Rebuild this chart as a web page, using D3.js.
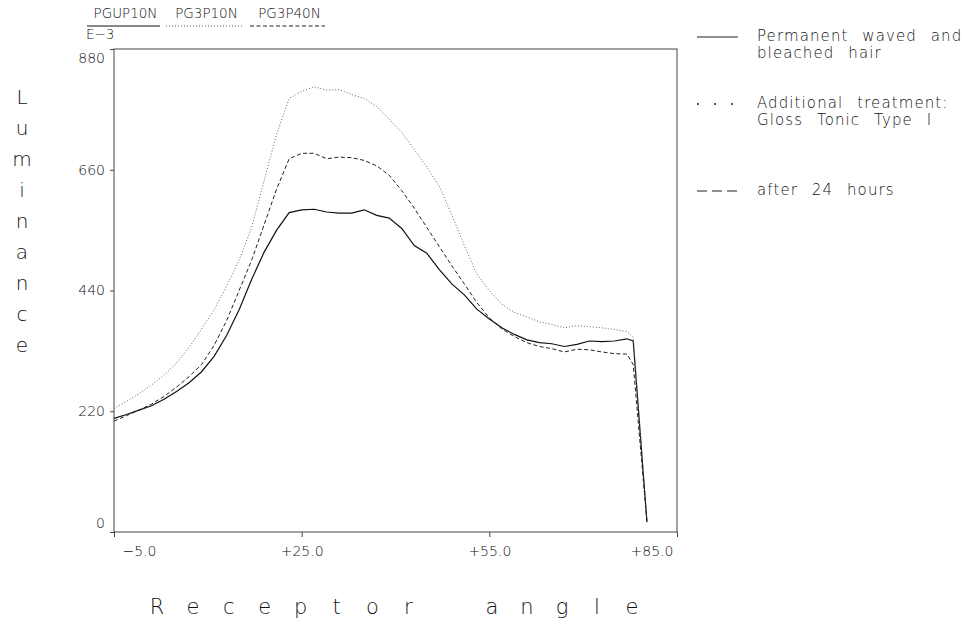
<!DOCTYPE html>
<html>
<head>
<meta charset="utf-8">
<script src="https://cdn.jsdelivr.net/npm/d3@7"></script>
<style>
  body { margin: 0; background: #fff; }
  text { font-family: "DejaVu Sans", sans-serif; font-weight: 200; fill: #111; }
</style>
</head>
<body>
<svg id="chart" width="979" height="633"></svg>
<script>
// Receptor angle (deg) and luminance (E-3)
const angles = [-5, -3, -1, 1, 3, 5, 7, 9, 11, 13, 15, 17, 19, 21, 23, 25, 27, 29, 31, 33, 35, 37, 39,
  41, 43, 45, 47, 49, 51, 53, 55, 57, 59, 61, 63, 65, 67, 69, 71, 73, 75, 77, 78, 80.2];
const permWaved = [207, 214, 222, 230, 242, 256, 272, 292, 320, 358, 405, 460, 510, 550, 582, 587, 588, 583, 581, 581, 587, 577, 572,
  553, 522, 508, 478, 452, 432, 406, 388, 372, 360, 350, 345, 343, 338, 342, 348, 347, 348, 352, 348, 18];
const glossTonic = [225, 238, 252, 268, 286, 308, 336, 370, 405, 448, 495, 555, 640, 725, 790, 803, 811, 805, 806, 797, 790, 775, 752,
  728, 697, 665, 630, 578, 522, 470, 440, 415, 400, 392, 383, 378, 372, 376, 374, 372, 369, 365, 355, 18];
const after24h = [202, 212, 222, 233, 247, 264, 283, 305, 340, 385, 440, 495, 560, 625, 680, 690, 690, 680, 683, 682, 677, 667, 650,
  622, 590, 555, 520, 485, 452, 418, 390, 370, 356, 345, 338, 334, 328, 333, 332, 328, 325, 324, 305, 18];

const seriesNames = ['PGUP10N', 'PG3P10N', 'PG3P40N'];
const legendLabels = [['Permanent waved and', 'bleached hair'], ['Additional treatment:', 'Gloss Tonic Type I'], ['after 24 hours']];
const xTicks = [-5, 25, 55, 85];
const yTicks = [0, 220, 440, 660, 880];

let svg = d3.select('#chart');

let x = d3.scaleLinear().domain([-5, 85]).range([114, 677]);
let y = d3.scaleLinear().domain([0, 880]).range([532, 49]);

// line styles: solid, dotted, dashed
let styles = [
  { stroke: '#111', width: 1.2, dash: null },
  { stroke: '#666', width: 1, dash: '1,2' },
  { stroke: '#222', width: 1, dash: '4,2.5' }
];

//
// Frame and axes
//

svg.append('rect')
  .attr('x', x(-5)).attr('y', y(880))
  .attr('width', x(85) - x(-5)).attr('height', y(0) - y(880))
  .attr('fill', 'none').attr('stroke', '#444').attr('stroke-width', 1);

let fmtX = (d) => (d > 0 ? '+' : '\u2212') + Math.abs(d).toFixed(1);

let xAxis = svg.append('g')
  .attr('transform', `translate(0,${y(0)})`)
  .call(d3.axisBottom(x).tickValues(xTicks).tickSize(5).tickSizeOuter(0).tickFormat(fmtX));
xAxis.select('.domain').remove();
xAxis.selectAll('line').attr('stroke', '#444');
xAxis.selectAll('text')
  .attr('y', 14).attr('dy', '0.71em')
  .style('font-size', '14px')
  .attr('text-anchor', (d) => d === -5 ? 'start' : d === 85 ? 'end' : 'middle')
  .attr('x', (d) => d === -5 ? 8 : d === 85 ? -4 : 0);

let yAxis = svg.append('g')
  .attr('transform', `translate(${x(-5)},0)`)
  .call(d3.axisLeft(y).tickValues(yTicks).tickSize(4).tickSizeOuter(0).tickFormat(d3.format('d')));
yAxis.select('.domain').remove();
yAxis.selectAll('line').attr('stroke', '#444');
yAxis.selectAll('text')
  .attr('x', -9)
  .style('font-size', '14px')
  .attr('dy', (d) => d === 880 ? '0.95em' : d === 0 ? '-0.3em' : '0.32em');

//
// Data lines
//

let line = d3.line()
  .x((d) => x(d[0]))
  .y((d) => y(d[1]));

[permWaved, glossTonic, after24h].forEach((vals, i) => {
  svg.append('path')
    .datum(angles.map((a, j) => [a, vals[j]]))
    .attr('d', line)
    .attr('fill', 'none')
    .attr('stroke', styles[i].stroke)
    .attr('stroke-width', styles[i].width)
    .attr('stroke-dasharray', styles[i].dash);
});

//
// Header: series codes with line-style underlines, E-3 exponent
//

let headerX = [[87, 160], [166, 243], [250, 325]];
seriesNames.forEach((name, i) => {
  let [x0, x1] = headerX[i];
  svg.append('text')
    .attr('x', (x0 + x1) / 2 + 2).attr('y', 18)
    .attr('text-anchor', 'middle')
    .style('font-size', '13.5px')
    .text(name);
  svg.append('line')
    .attr('x1', x0).attr('x2', x1).attr('y1', 26).attr('y2', 26)
    .attr('stroke', styles[i].stroke).attr('stroke-width', 1)
    .attr('stroke-dasharray', styles[i].dash);
});
svg.append('text')
  .attr('x', 86).attr('y', 39)
  .style('font-size', '13.5px')
  .text('E\u22123');

//
// Axis titles, one letter at a time like the plotter output
//

let yTitle = 'Luminance'.split('');
svg.append('g').selectAll('text')
  .data(yTitle)
  .enter().append('text')
    .attr('x', 22)
    .attr('y', (d, i) => 104 + i * 31)
    .attr('text-anchor', 'middle')
    .style('font-size', '20px')
    .text((d) => d);

let xTitle = ['Receptor', 'angle'];
let titleStart = [157, 492], titleStep = [35.9, 35];
xTitle.forEach((word, w) => {
  svg.append('g').selectAll('text')
    .data(word.split(''))
    .enter().append('text')
      .attr('x', (d, i) => titleStart[w] + i * titleStep[w])
      .attr('y', 614)
      .attr('text-anchor', 'middle')
      .style('font-size', '21px')
      .text((d) => d);
});

//
// Right legend
//

let legendY = [41, 108, 195];
let legendDash = [null, '2,15', '10,5'];
legendLabels.forEach((lines, i) => {
  svg.append('line')
    .attr('x1', 697).attr('x2', 738)
    .attr('y1', legendY[i] - 4).attr('y2', legendY[i] - 4)
    .attr('stroke', '#222').attr('stroke-width', i === 1 ? 1.6 : 1)
    .attr('stroke-dasharray', legendDash[i]);
  lines.forEach((txt, k) => {
    svg.append('text')
      .attr('x', 757).attr('y', legendY[i] + k * 17)
      .style('font-size', '15px')
      .style('letter-spacing', '1.1px')
      .style('word-spacing', '8px')
      .text(txt);
  });
});
</script>
</body>
</html>
